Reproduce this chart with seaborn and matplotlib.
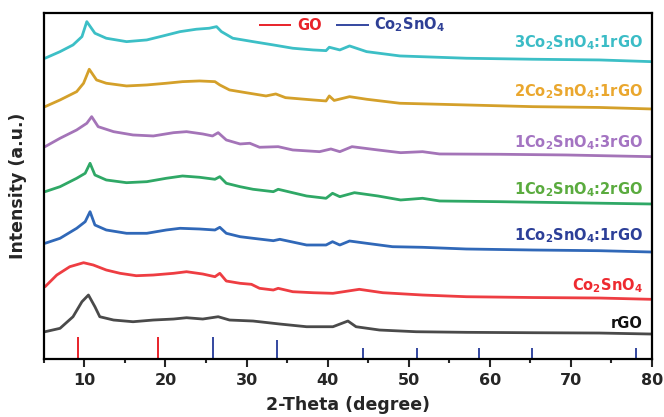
import matplotlib
matplotlib.use("Agg")
import matplotlib.pyplot as plt
import seaborn as sns

# XRD patterns, intensity (arbitrary units, stacked)
rgo_x = [5.15, 7.0, 8.6, 9.7, 10.5, 11.3, 11.9, 13.6, 16.0, 18.5, 21.0, 22.6, 24.6, 26.5, 27.9,
         30.8, 34.1, 37.4, 40.65, 42.5, 43.5, 46.4, 50.9, 57.1, 65.3, 73.5, 79.9]
rgo_y = [29.3, 32.7, 44.3, 59.3, 66, 54.3, 44.3, 41, 39.3, 41, 42, 43.3, 42, 44.3, 41,
         40, 37, 34.3, 34.3, 40, 34.3, 31, 29.3, 28.7, 28.3, 28, 27]

cso_x = [5.15, 6.6, 8.2, 9.9, 11.1, 12.7, 14.4, 16.4, 18.5, 21.0, 22.6, 24.6, 26.1, 26.7, 27.5,
         29.2, 30.6, 31.6, 33.3, 33.9, 35.7, 38.2, 40.65, 43.9, 46.8, 51.7, 57.1, 65.3, 73.5, 79.9]
cso_y = [74.3, 86, 94.3, 98.3, 96, 91, 87.7, 85.3, 86, 87.7, 89.3, 87, 84.3, 87.7, 80,
         77.7, 76.7, 72.7, 71, 72.7, 69.3, 68.3, 67.7, 71.7, 68.3, 66, 64.3, 63.5, 63, 61.7]

r11_x = [5.15, 7.0, 9.05, 10.1, 10.7, 11.3, 12.7, 15.2, 17.7, 20.1, 21.8, 24.2, 26.1, 26.7, 27.5,
         29.2, 30.8, 33.3, 34.1, 37.4, 39.8, 40.6, 41.5, 42.7, 44.8, 48.0, 51.7, 57.1, 65.3, 73.5, 79.9]
r11_y = [117.7, 122.7, 132.7, 139.3, 149.3, 136, 131, 127.7, 127.7, 131, 132.7, 132, 131, 133.7, 127.7,
         124.3, 122.7, 120.3, 121.7, 116, 116, 119.3, 116, 120, 117.7, 114.3, 113.7, 112, 111, 110.3, 109]

r12_x = [5.15, 7.0, 9.05, 10.1, 10.7, 11.3, 12.7, 15.2, 17.7, 20.1, 22.1, 24.2, 26.1, 26.7, 27.5,
         29.2, 30.8, 33.3, 33.9, 37.4, 39.8, 40.6, 41.5, 43.3, 46.2, 49.0, 51.7, 53.8, 61.2, 69.4, 79.9]
r12_y = [169.3, 174.3, 182.7, 187.7, 197.7, 186, 181, 178.3, 179.3, 182.7, 185, 183.7, 181.7, 184.3, 177.7,
         174.3, 171.7, 169.3, 171.7, 165, 162.7, 167.7, 164.3, 168.3, 165, 161, 162.7, 160, 159.3, 158.3, 157]

r13_x = [5.15, 7.0, 9.05, 10.3, 10.9, 11.7, 13.6, 16.0, 18.5, 21.0, 22.6, 24.6, 25.8, 26.5, 27.5,
         29.2, 30.4, 31.6, 33.9, 35.7, 39.0, 40.4, 41.5, 43.0, 46.2, 49.0, 51.7, 53.8, 61.2, 69.4, 79.9]
r13_y = [214.3, 222.7, 231, 237.7, 244.3, 234.3, 229.3, 226, 225, 228.3, 229.3, 227, 225, 228.3, 221,
         217, 217.7, 213.7, 214.3, 211, 209.3, 212, 209.3, 214.3, 211, 208.3, 209.3, 207, 206.7, 206, 204.3]

r21_x = [5.15, 7.0, 9.05, 9.9, 10.6, 11.5, 12.7, 15.2, 17.7, 20.1, 22.1, 24.2, 26.1, 26.7, 27.9,
         29.9, 32.4, 33.6, 34.8, 38.2, 39.8, 40.2, 40.8, 42.7, 44.8, 48.9, 57.1, 65.3, 73.5, 79.9]
r21_y = [254.3, 261, 269.3, 277.7, 291.7, 281, 277.7, 275, 276, 277.7, 279.3, 280, 279.3, 276, 271,
         268.3, 265, 267, 263.3, 261, 260, 265, 260.5, 264.3, 261.7, 257.7, 256, 254.3, 253.5, 252]

r31_x = [5.15, 7.0, 8.6, 9.7, 10.3, 11.3, 12.7, 15.2, 17.7, 19.7, 21.8, 23.8, 25.4, 26.3, 26.9,
         28.3, 30.8, 33.3, 35.7, 38.2, 39.8, 40.2, 41.5, 42.7, 44.8, 48.9, 57.1, 65.3, 73.5, 79.9]
r31_y = [302.7, 309.3, 316, 324.3, 339.3, 327.7, 322.7, 319.3, 321, 325, 329.3, 331.7, 332.7, 334.3, 329.3,
         322.7, 319.3, 316, 312.7, 311, 310.3, 313.7, 311, 315, 309.3, 305, 302.7, 301.7, 301, 299.3]

# reference patterns (stick positions and heights)
go_pos = [9.2, 19.05]
go_h = [22, 22]
co_pos = [25.8, 33.7, 44.3, 51.0, 58.6, 65.2, 78.0]
co_h = [22, 19.5, 11, 11, 11, 11, 11]

names = ["rGO", "Co$_2$SnO$_4$", "1Co$_2$SnO$_4$:1rGO", "1Co$_2$SnO$_4$:2rGO",
         "1Co$_2$SnO$_4$:3rGO", "2Co$_2$SnO$_4$:1rGO", "3Co$_2$SnO$_4$:1rGO"]

sns.set_style("white")
plt.rcParams['font.family'] = ['DejaVu Sans']
plt.rcParams['mathtext.default'] = 'bf'

fig = plt.figure(figsize=(6.64, 4.17), dpi=100)
ax = fig.add_axes([0.066, 0.139, 0.916, 0.830])

series = [(rgo_x, rgo_y), (cso_x, cso_y), (r11_x, r11_y), (r12_x, r12_y),
          (r13_x, r13_y), (r21_x, r21_y), (r31_x, r31_y)]
line_cols = ['#4a4a4a', '#ee3d42', '#3068b8', '#2fa866', '#a474b8', '#d4a02a', '#3cbfc6']
text_cols = ['#111111', '#ee2a30', '#2c3f98', '#5aab3e', '#a474c2', '#eaa72e', '#3bbcc6']
label_y = [38, 75, 125, 171, 218, 269, 318]

for (xs, ys), lc, tc, name, ly in zip(series, line_cols, text_cols, names, label_y):
    sns.lineplot(x=xs, y=ys, color=lc, lw=2.0, ax=ax, sort=False, estimator=None)
    ax.text(78.8, ly, name, ha='right', va='center', color=tc, fontsize=10.5, fontweight='bold')

base = 2
ax.vlines(go_pos, base, [base + h for h in go_h], color='#e8232a', lw=1.4, label='GO')
ax.vlines(co_pos, base, [base + h for h in co_h], color='#3448a0', lw=1.4, label='Co$_2$SnO$_4$')

leg = ax.legend(loc='center', bbox_to_anchor=(0.507, 0.965), ncol=2, frameon=False,
                handlelength=2.2, columnspacing=1.0, handletextpad=0.4,
                prop={'weight': 'bold', 'size': 10.5})
for txt, c in zip(leg.get_texts(), ['#e8232a', '#2e3f95']):
    txt.set_color(c)

ax.set_xlim(5, 80)
ax.set_ylim(2, 348)
ax.set_yticks([])
ax.set_xticks(range(10, 81, 10))
ax.set_xticks(range(5, 81, 5), minor=True)
ax.tick_params(axis='x', which='major', direction='out', length=6, width=1.5,
               labelsize=11.5, pad=4, bottom=True)
ax.tick_params(axis='x', which='minor', direction='out', length=3, width=1.5, bottom=True)
for lab in ax.get_xticklabels():
    lab.set_fontweight('bold')

for sp in ax.spines.values():
    sp.set_color('black')
    sp.set_linewidth(1.6)

ax.set_xlabel("2-Theta (degree)", fontsize=12.5, fontweight='bold', labelpad=6)
ax.set_ylabel("Intensity (a.u.)", fontsize=12.5, fontweight='bold', labelpad=12)

fig.savefig("out.png", dpi=100)
